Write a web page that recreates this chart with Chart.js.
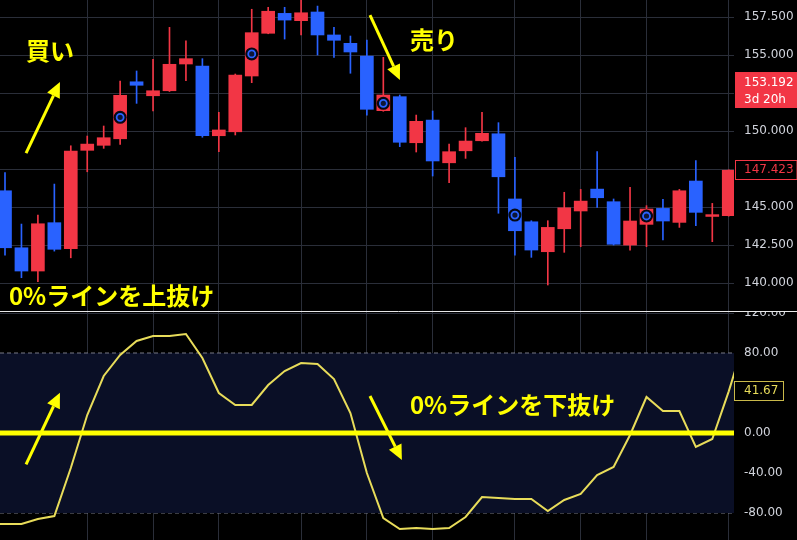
<!DOCTYPE html>
<html>
<head>
<meta charset="utf-8">
<script src="https://cdn.jsdelivr.net/npm/chart.js@4.4.1/dist/chart.umd.min.js"></script>
<style>
  html, body { margin: 0; padding: 0; background: #000; }
  #wrap { position: relative; width: 797px; height: 540px; overflow: hidden; }
  canvas { display: block; position: absolute; left: 0; }
  #priceChart { top: 0; }
  #oscChart { top: 311px; }
</style>
</head>
<body>
<div id="wrap">
  <canvas id="priceChart" width="797" height="311"></canvas>
  <canvas id="oscChart" width="797" height="229"></canvas>
</div>
<script>
// ローソク足データ（始値・高値・安値・終値）
const opens  = [146.07, 142.32, 140.79, 143.97, 142.26, 148.73, 149.06, 149.49, 153.24, 152.32,
                152.65, 154.41, 154.28, 149.69, 149.95, 153.62, 156.43, 157.74, 157.26, 157.83,
                156.32, 155.77, 154.93, 151.34, 152.26, 149.23, 150.72, 147.91, 148.70, 149.36,
                149.82, 145.53, 144.03, 142.06, 143.57, 144.74, 146.18, 145.35, 142.50, 143.86,
                144.91, 143.99, 146.71, 144.38, 144.43];
const highs  = [147.26, 143.88, 144.47, 146.51, 149.03, 149.67, 150.33, 153.29, 153.95, 154.72,
                156.82, 155.94, 154.76, 151.23, 153.75, 158.01, 158.14, 158.14, 158.80, 158.22,
                156.82, 156.25, 155.99, 154.85, 152.37, 151.05, 151.32, 149.14, 150.22, 151.23,
                150.55, 148.27, 144.10, 144.10, 145.97, 146.16, 148.64, 145.53, 146.30, 145.09,
                145.51, 146.16, 148.05, 145.24, 147.45];
const lows   = [141.84, 140.35, 140.09, 142.10, 141.66, 147.32, 148.86, 149.12, 151.82, 151.32,
                152.60, 153.31, 149.59, 148.64, 149.74, 153.18, 156.40, 156.05, 156.32, 155.00,
                154.85, 153.80, 151.05, 151.30, 148.97, 148.62, 147.04, 146.60, 148.20, 149.33,
                144.59, 141.84, 141.69, 139.87, 142.02, 142.39, 144.98, 142.50, 142.17, 142.39,
                142.83, 143.66, 143.77, 142.72, 144.40];
const closes = [142.32, 140.79, 143.90, 142.22, 148.68, 149.14, 149.56, 152.35, 153.01, 152.65,
                154.39, 154.76, 149.69, 150.07, 153.68, 156.47, 157.88, 157.30, 157.78, 156.32,
                155.97, 155.20, 151.43, 152.37, 149.26, 150.64, 148.03, 148.64, 149.34, 149.85,
                146.99, 143.44, 142.17, 143.66, 144.95, 145.39, 145.61, 142.55, 144.08, 144.87,
                144.08, 146.07, 144.65, 144.50, 147.42];

// シグナル（◎マーク）
const signalIdx   = [7, 15, 23, 31, 39];
const signalPrice = [150.90, 155.07, 151.82, 144.47, 144.41];

// オシレーター（最初と最後の1本は画面外）
const oscFirstIdx = -1;
const oscValues = [-91, -91, -91, -86, -83, -35, 18, 57, 78, 92, 97,
                   97, 99, 75, 40, 28, 28, 48, 62, 70, 69,
                   54, 20, -40, -85, -96, -95, -96, -95, -84, -64,
                   -65, -66, -66, -78, -67, -61, -42, -34, -2, 36,
                   22, 22, -14, -6, 41.67, 95];
const oscLast = 41.67;

const priceTicks = [140, 142.5, 145, 147.5, 150, 152.5, 155, 157.5];
const oscTicks   = [-80, -40, 0, 40, 80, 120];
const bandLevels = [80, -80];
const zeroLevel  = 0;
const gridIdx    = [5, 9, 13, 18, 22, 26, 31, 35, 39, 44];

const lastPrice = 153.192;
const countdown = '3d 20h';
const markPrice = 147.423;

// 見た目の設定
const upColor = '#f23645', downColor = '#2962ff';
const gridColor = '#2a2e39';
const tickColor = '#d1d4dc';
const noteColor = '#ffff00';
const oscColor = '#e8dc5a';
const axisWidth = 63;
const xMin = -0.304, xMax = 44.32;
const axisFont = { family: 'DejaVu Sans', size: 12 };
const noteFont = 'bold 24px "Noto Sans CJK JP"';

const topNotes = [
  { text: '買い', idx: 2.74, value: 155.30, align: 'center' },
  { text: '売り', idx: 26.08, value: 155.99, align: 'center' },
  { text: '0%ラインを上抜け', idx: 0.24, value: 139.14, align: 'left' }
];
const topArrows = [
  { from: [1.28, 148.55], to: [3.34, 153.22] },
  { from: [22.19, 157.63], to: [24.01, 153.36] }
];
const bottomNotes = [
  { text: '0%ラインを下抜け', idx: 24.62, value: 28.5, align: 'left' }
];
const bottomArrows = [
  { from: [1.28, -31.3], to: [3.34, 40.3] },
  { from: [22.19, 37], to: [24.13, -27] }
];

function drawArrow(ctx, x1, y1, x2, y2) {
  const ang = Math.atan2(y2 - y1, x2 - x1);
  const head = 15, half = 7;
  const bx = x2 - head * Math.cos(ang), by = y2 - head * Math.sin(ang);
  ctx.beginPath();
  ctx.moveTo(x1, y1);
  ctx.lineTo(bx, by);
  ctx.stroke();
  ctx.beginPath();
  ctx.moveTo(x2, y2);
  ctx.lineTo(bx + half * Math.sin(ang), by - half * Math.cos(ang));
  ctx.lineTo(bx - half * Math.sin(ang), by + half * Math.cos(ang));
  ctx.closePath();
  ctx.fill();
}

function drawNotes(chart, arrows, notes) {
  const { ctx, scales: { x, y } } = chart;
  ctx.save();
  ctx.fillStyle = noteColor;
  ctx.strokeStyle = noteColor;
  ctx.lineWidth = 3;
  arrows.forEach(a => drawArrow(ctx,
    x.getPixelForValue(a.from[0]), y.getPixelForValue(a.from[1]),
    x.getPixelForValue(a.to[0]), y.getPixelForValue(a.to[1])));
  ctx.font = noteFont;
  ctx.textBaseline = 'middle';
  notes.forEach(n => {
    ctx.textAlign = n.align;
    ctx.fillText(n.text, x.getPixelForValue(n.idx), y.getPixelForValue(n.value));
  });
  ctx.restore();
}

// 上段：ローソク足の注釈と価格ラベル
const priceOverlay = {
  id: 'priceOverlay',
  afterDraw(chart) {
    drawNotes(chart, topArrows, topNotes);
    const { ctx, chartArea, scales: { y } } = chart;
    const left = chartArea.right + 1;
    ctx.save();
    ctx.font = '12px "DejaVu Sans"';
    ctx.textBaseline = 'middle';
    ctx.textAlign = 'left';
    // 現在値
    const yl = y.getPixelForValue(lastPrice);
    ctx.fillStyle = upColor;
    ctx.fillRect(left, yl - 10.5, axisWidth, 36);
    ctx.fillStyle = '#ffffff';
    ctx.fillText(lastPrice.toFixed(3), left + 9, yl);
    ctx.fillText(countdown, left + 9, yl + 17);
    // 枠付きラベル
    const ym = Math.round(y.getPixelForValue(markPrice));
    ctx.fillStyle = '#000';
    ctx.fillRect(left, ym - 10, axisWidth, 20);
    ctx.strokeStyle = upColor;
    ctx.lineWidth = 1;
    ctx.strokeRect(left + 0.5, ym - 9.5, axisWidth - 1.5, 19);
    ctx.fillStyle = upColor;
    ctx.fillText(markPrice.toFixed(3), left + 9, ym);
    ctx.restore();
  }
};

// 下段：注釈・現在値ラベル・区切り線
const oscOverlay = {
  id: 'oscOverlay',
  afterDraw(chart) {
    drawNotes(chart, bottomArrows, bottomNotes);
    const { ctx, chartArea, scales: { y } } = chart;
    const left = chartArea.right;
    ctx.save();
    const yv = Math.round(y.getPixelForValue(oscLast));
    ctx.fillStyle = '#000';
    ctx.fillRect(left, yv - 10, 50, 20);
    ctx.strokeStyle = '#c9b94a';
    ctx.lineWidth = 1;
    ctx.strokeRect(left + 0.5, yv - 9.5, 49, 19);
    ctx.fillStyle = oscColor;
    ctx.font = '12px "DejaVu Sans"';
    ctx.textBaseline = 'middle';
    ctx.textAlign = 'left';
    ctx.fillText(oscLast.toFixed(2), left + 10, yv);
    ctx.strokeStyle = '#e8e8e8';
    ctx.beginPath();
    ctx.moveTo(0, 0.5);
    ctx.lineTo(chart.width, 0.5);
    ctx.stroke();
    ctx.restore();
  }
};

const makeXScale = () => ({
  type: 'linear',
  min: xMin,
  max: xMax,
  offset: false,
  afterBuildTicks: s => { s.ticks = gridIdx.map(v => ({ value: v })); },
  ticks: { display: false },
  grid: { color: gridColor, drawTicks: false, offset: false },
  border: { display: false }
});

const idx = closes.map((_, i) => i);
const candleColors = closes.map((c, i) => c >= opens[i] ? upColor : downColor);

new Chart(document.getElementById('priceChart'), {
  type: 'bar',
  data: {
    datasets: [
      {
        type: 'line',
        data: signalIdx.map((v, i) => ({ x: v, y: signalPrice[i] })),
        showLine: false,
        pointRadius: 3.5,
        pointBorderWidth: 1.8,
        pointBorderColor: '#2962ff',
        pointBackgroundColor: '#0d1636',
        order: 0
      },
      {
        type: 'line',
        data: signalIdx.map((v, i) => ({ x: v, y: signalPrice[i] })),
        showLine: false,
        pointRadius: 6.5,
        pointBorderWidth: 0,
        pointBackgroundColor: '#050814',
        order: 1
      },
      {
        data: idx.map(i => ({ x: i, y: [opens[i], closes[i]] })),
        backgroundColor: candleColors,
        barThickness: 13,
        grouped: false,
        order: 2
      },
      {
        data: idx.map(i => ({ x: i, y: [lows[i], highs[i]] })),
        backgroundColor: candleColors,
        barThickness: 1,
        grouped: false,
        order: 3
      }
    ]
  },
  options: {
    responsive: false,
    animation: false,
    events: [],
    layout: { padding: 0, autoPadding: false },
    plugins: { legend: { display: false }, tooltip: { enabled: false } },
    scales: {
      x: makeXScale(),
      y: {
        position: 'right',
        min: 138.16,
        max: 158.62,
        afterBuildTicks: s => { s.ticks = priceTicks.map(v => ({ value: v })); },
        afterFit: s => { s.width = axisWidth; s.paddingTop = 0; s.paddingBottom = 0; },
        ticks: { padding: 10, color: tickColor, font: axisFont, autoSkip: false,
                 callback: v => v.toFixed(3) },
        grid: { color: gridColor, drawTicks: false },
        border: { display: false }
      }
    }
  },
  plugins: [priceOverlay]
});

const levelLine = v => [{ x: xMin, y: v }, { x: xMax, y: v }];

new Chart(document.getElementById('oscChart'), {
  type: 'line',
  data: {
    datasets: [
      { data: levelLine(zeroLevel), borderColor: noteColor, borderWidth: 5, pointRadius: 0, clip: 0 },
      { data: oscValues.map((v, i) => ({ x: i + oscFirstIdx, y: v })), borderColor: oscColor,
        borderWidth: 2, pointRadius: 0, tension: 0, clip: 0 },
      { data: levelLine(bandLevels[0]), borderColor: '#787b86', borderWidth: 1, borderDash: [4, 3],
        pointRadius: 0, fill: '+1', backgroundColor: '#0a0f26', clip: 0 },
      { data: levelLine(bandLevels[1]), borderColor: '#787b86', borderWidth: 1, borderDash: [4, 3],
        pointRadius: 0, clip: 0 }
    ]
  },
  options: {
    responsive: false,
    animation: false,
    events: [],
    layout: { padding: 0, autoPadding: false },
    plugins: { legend: { display: false }, tooltip: { enabled: false } },
    scales: {
      x: makeXScale(),
      y: {
        position: 'right',
        min: -107,
        max: 122,
        afterBuildTicks: s => { s.ticks = oscTicks.map(v => ({ value: v })); },
        afterFit: s => { s.width = axisWidth; s.paddingTop = 0; s.paddingBottom = 0; },
        ticks: { padding: 10, color: tickColor, font: axisFont, autoSkip: false,
                 callback: v => v.toFixed(2) },
        grid: {
          color: c => bandLevels.includes(c.tick.value) ? 'rgba(0,0,0,0)' : gridColor,
          drawTicks: false
        },
        border: { display: false }
      }
    }
  },
  plugins: [oscOverlay]
});
</script>
</body>
</html>
